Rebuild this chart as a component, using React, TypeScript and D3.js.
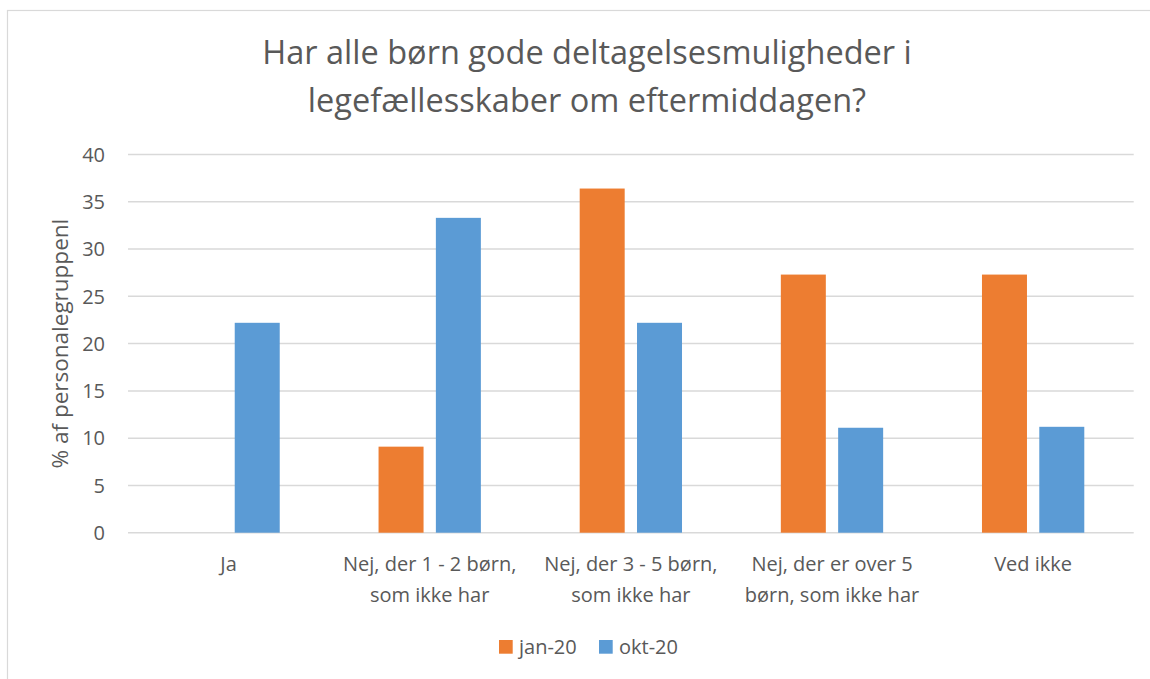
import * as d3 from "d3";

// chart values
const categories = [
  ["Ja"],
  ["Nej, der 1 - 2 børn,", "som ikke har"],
  ["Nej, der 3 - 5 børn,", "som ikke har"],
  ["Nej, der er over 5", "børn, som ikke har"],
  ["Ved ikke"],
];
const seriesNames = ["jan-20", "okt-20"];
const jan20 = [0, 9.1, 36.4, 27.3, 27.3];
const okt20 = [22.2, 33.3, 22.2, 11.1, 11.2];
const yTicks = [0, 5, 10, 15, 20, 25, 30, 35, 40];
const colors = ["#ED7D31", "#5B9BD5"];

const W = 1150;
const H = 679;
const font = "'Open Sans', 'Segoe UI', sans-serif";
const textColor = "#595959";

export default function App() {
  const margin = { left: 128, right: 1133.7, top: 154.5, bottom: 532.7 };
  const catKeys = categories.map((_, i) => String(i));

  const x0 = d3.scaleBand<string>().domain(catKeys).range([margin.left, margin.right]).padding(0);
  const x1 = d3
    .scaleBand<string>()
    .domain(seriesNames)
    .range([0, x0.bandwidth()])
    .paddingInner(0.215)
    .paddingOuter(0.862);
  const y = d3.scaleLinear().domain([0, 40]).range([margin.bottom, margin.top]);

  const values = [jan20, okt20];

  return (
    <svg
      width={W}
      height={H}
      style={{ position: "absolute", left: 0, top: 0, background: "#fff" }}
      fontFamily={font}
    >
      <rect x={7.5} y={10.5} width={1160} height={700} fill="#fff" stroke="#d9d9d9" strokeWidth={1.2} />

      {/* title */}
      <text x={587} y={64} textAnchor="middle" fontSize={32.5} fill={textColor}>
        Har alle børn gode deltagelsesmuligheder i
      </text>
      <text x={587} y={112} textAnchor="middle" fontSize={32.5} fill={textColor}>
        legefællesskaber om eftermiddagen?
      </text>

      {/* grid + y ticks */}
      {yTicks.map((t) => (
        <g key={t}>
          <line x1={margin.left} x2={margin.right} y1={y(t)} y2={y(t)} stroke="#d9d9d9" strokeWidth={1.5} />
          <text x={105} y={y(t)} dy="0.36em" textAnchor="end" fontSize={20} fill={textColor}>
            {t}
          </text>
        </g>
      ))}

      {/* y axis title */}
      <text
        transform={`translate(68,${(margin.top + margin.bottom) / 2}) rotate(-90)`}
        textAnchor="middle"
        fontSize={22.5}
        fill={textColor}
      >
        % af personalegruppenl
      </text>

      {/* bars */}
      {catKeys.map((c, i) => (
        <g key={c} transform={`translate(${x0(c)},0)`}>
          {seriesNames.map((s, j) =>
            values[j][i] > 0 ? (
              <rect
                key={s}
                x={x1(s)}
                y={y(values[j][i])}
                width={x1.bandwidth()}
                height={y(0) - y(values[j][i])}
                fill={colors[j]}
              />
            ) : null
          )}
        </g>
      ))}

      {/* category labels */}
      {categories.map((lines, i) => (
        <text
          key={i}
          x={x0(String(i))! + x0.bandwidth() / 2}
          y={571}
          textAnchor="middle"
          fontSize={20}
          fill={textColor}
        >
          {lines.map((l, k) => (
            <tspan key={k} x={x0(String(i))! + x0.bandwidth() / 2} dy={k === 0 ? 0 : 30.5}>
              {l}
            </tspan>
          ))}
        </text>
      ))}

      {/* legend */}
      {seriesNames.map((s, j) => (
        <g key={s} transform={`translate(${499 + j * 100},640)`}>
          <rect width={13.7} height={13.7} fill={colors[j]} />
          <text x={20} y={14} fontSize={20} fill={textColor}>
            {s}
          </text>
        </g>
      ))}
    </svg>
  );
}
